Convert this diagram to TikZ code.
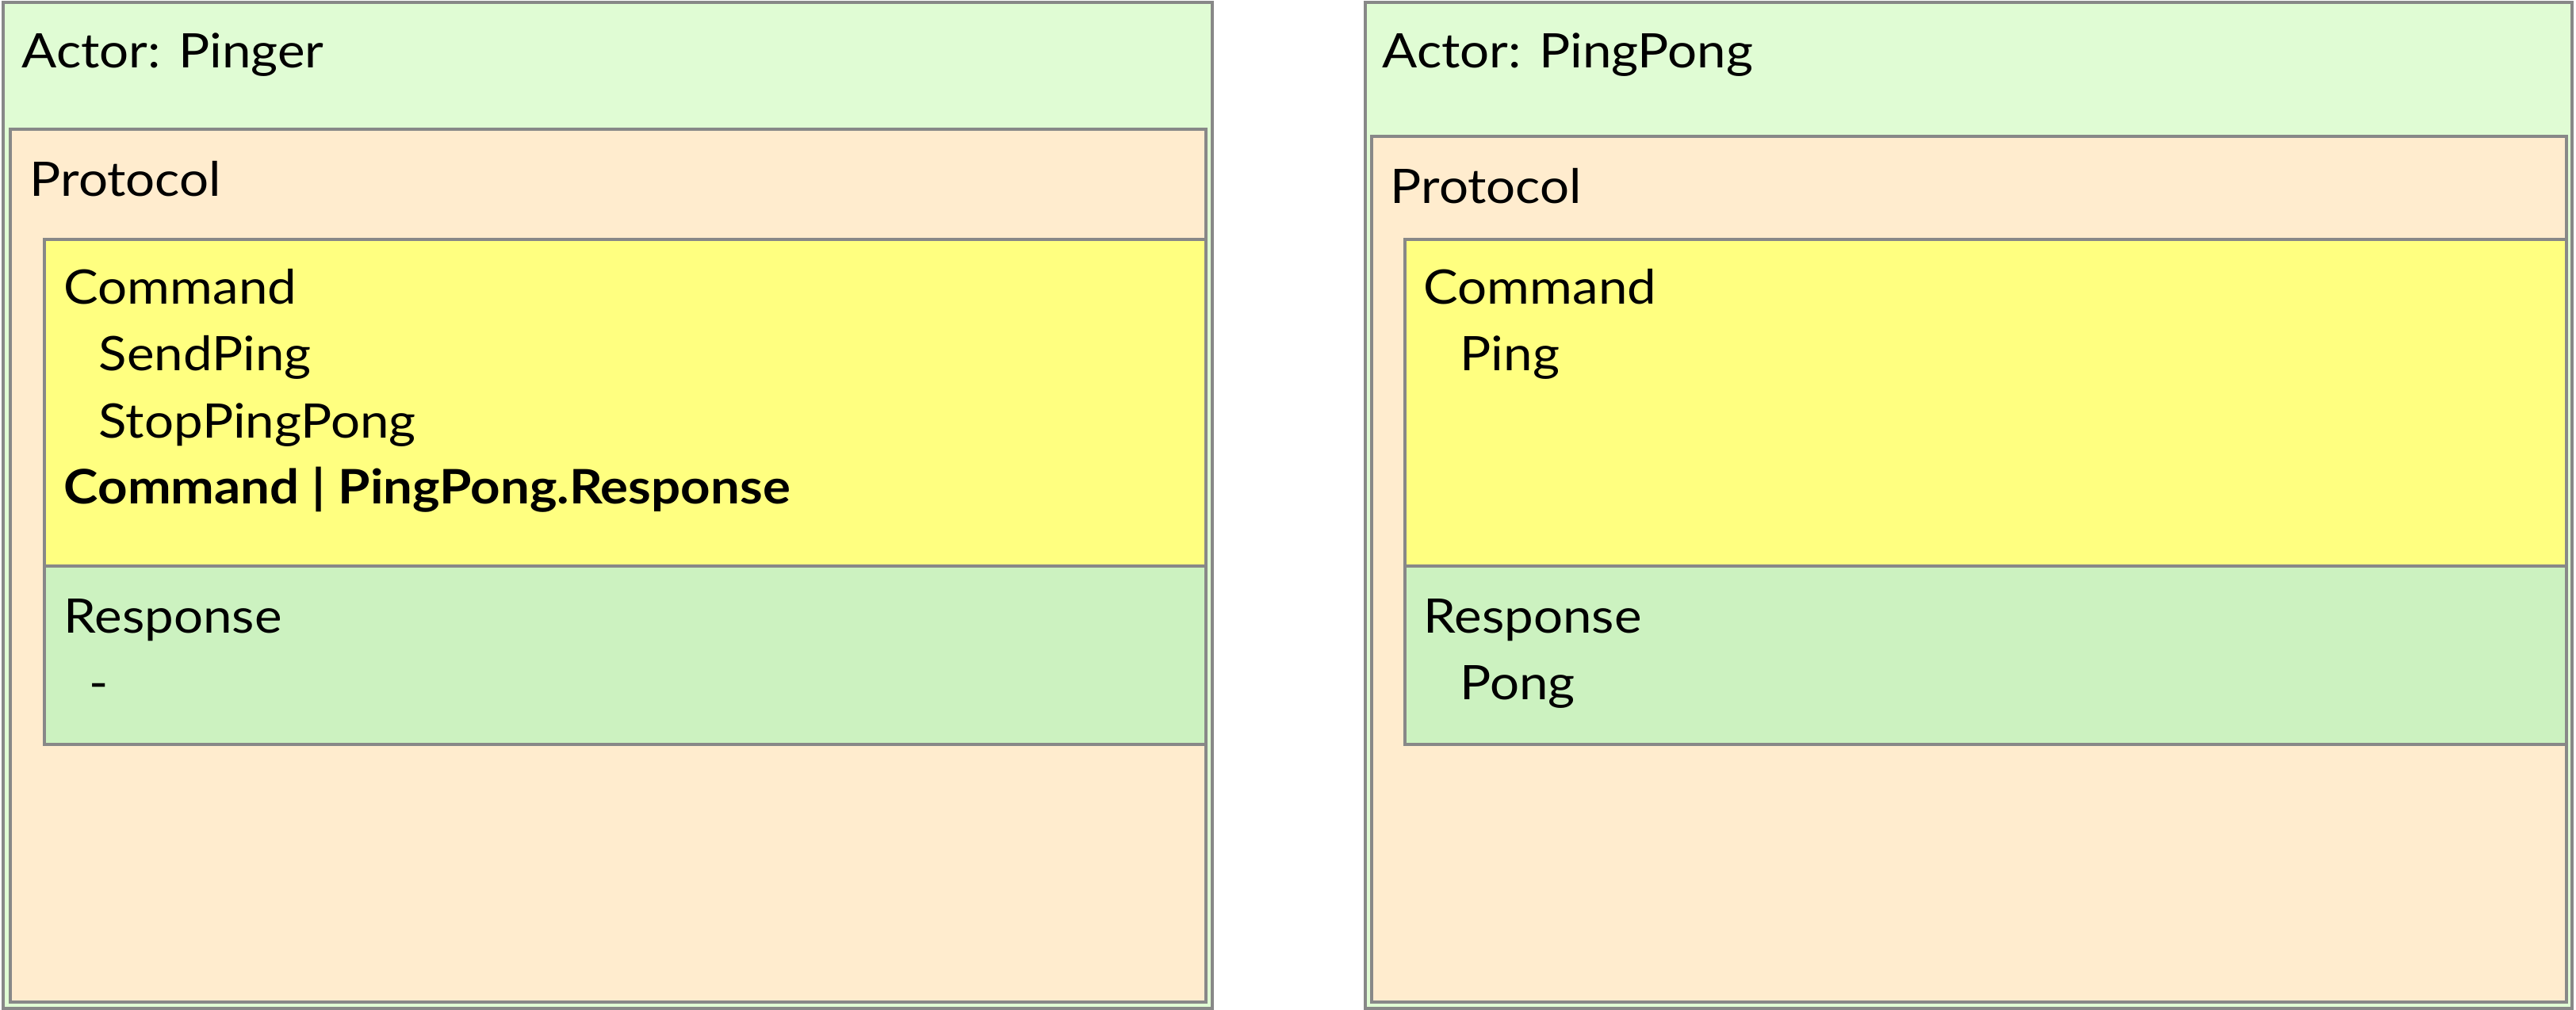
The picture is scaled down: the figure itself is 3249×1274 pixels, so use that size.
\documentclass[tikz,border=0pt]{standalone}
\usepackage{fontspec}
\setmainfont{Lato}[FakeStretch=1.09]

\definecolor{actorfill}{RGB}{224,252,212}
\definecolor{protofill}{RGB}{255,236,206}
\definecolor{cmdfill}{RGB}{255,255,128}
\definecolor{respfill}{RGB}{204,242,192}
\definecolor{edgegray}{RGB}{136,136,136}

\tikzset{
  box/.style={draw=edgegray,line width=0.8pt},
  lbl/.style={anchor=base west,inner sep=0pt,font=\fontsize{15}{18}\selectfont}
}

\begin{document}
\begin{tikzpicture}[x=0.25pt,y=-0.25pt]
\useasboundingbox (0,0) rectangle (3249,1274);

% left actor
\draw[box,fill=actorfill] (4,3) rectangle (1529,1272);
\draw[box,fill=protofill] (13,163) rectangle (1521,1264);
\draw[box,fill=cmdfill] (56,302) rectangle (1521,714);
\draw[box,fill=respfill] (56,714) rectangle (1521,939);

\node[lbl] (pactor) at (27,85) {Actor: Pinger};
\node[lbl] (pproto) at (37,247) {Protocol};
\node[lbl] (pcmd) at (80,383) {Command};
\node[lbl] (psend) at (124,467) {SendPing};
\node[lbl] (pstop) at (124,552) {StopPingPong};
\node[lbl,font=\fontsize{15}{18}\selectfont\bfseries] (pboth) at (80,635) {Command | PingPong.Response};
\node[lbl] (presp) at (80,798) {Response};
\node[lbl] (pnone) at (112,882) {-};

% right actor
\draw[box,fill=actorfill] (1722,3) rectangle (3244,1272);
\draw[box,fill=protofill] (1730,172) rectangle (3237,1264);
\draw[box,fill=cmdfill] (1772,302) rectangle (3237,714);
\draw[box,fill=respfill] (1772,714) rectangle (3237,939);

\node[lbl] (qactor) at (1743,85) {Actor: PingPong};
\node[lbl] (qproto) at (1753,256) {Protocol};
\node[lbl] (qcmd) at (1795,383) {Command};
\node[lbl] (qping) at (1841,467) {Ping};
\node[lbl] (qresp) at (1795,798) {Response};
\node[lbl] (qpong) at (1841,882) {Pong};
\end{tikzpicture}
\end{document}
